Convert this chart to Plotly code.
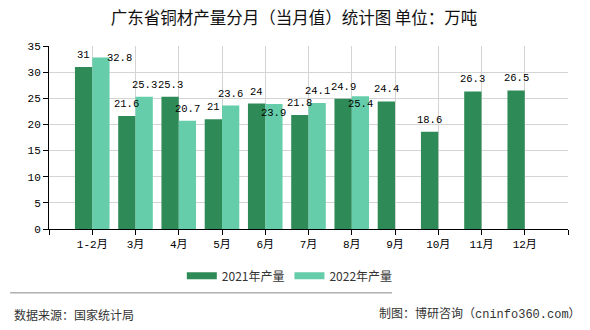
import plotly.graph_objects as go

categories = ["1-2月", "3月", "4月", "5月", "6月", "7月", "8月", "9月", "10月", "11月", "12月"]
prod_2021 = [31, 21.6, 25.3, 21, 24, 21.8, 24.9, 24.4, 18.6, 26.3, 26.5]
prod_2022 = [32.8, 25.3, 20.7, 23.6, 23.9, 24.1, 25.4, None, None, None, None]
series_names = ["2021年产量", "2022年产量"]
y_ticks = [0, 5, 10, 15, 20, 25, 30, 35]

# label placement tweaks (pixels) to mimic original label collision handling
shift_2021 = [(0, 12)] * len(prod_2021)
shift_2022 = [(19, 0), (0, 12), (0, 12), (0, 12), (0, -9), (0, 12), (0, -7.5), None, None, None, None]

c2021 = "#2e8b57"
c2022 = "#66cdaa"
num_font = "Liberation Mono, Noto Sans CJK SC, monospace"
cjk_font = "Noto Sans CJK SC, sans-serif"

xs = list(range(len(categories)))

fig = go.Figure()
fig.add_trace(go.Bar(x=xs, y=prod_2021, name=series_names[0], marker_color=c2021,
                     marker_line_width=0, showlegend=False))
fig.add_trace(go.Bar(x=xs, y=prod_2022, name=series_names[1], marker_color=c2022,
                     marker_line_width=0, showlegend=False))
# legend entries (wide rectangle style)
for nm, col in zip(series_names, [c2021, c2022]):
    fig.add_trace(go.Scatter(x=[None], y=[None], mode="lines", name=nm,
                             line=dict(color=col, width=7)))

annotations = []
for i, v in enumerate(prod_2021):
    if v is None:
        continue
    dx, dy = shift_2021[i]
    annotations.append(dict(x=i - 0.2, y=v, text=str(v), showarrow=False, xref="x", yref="y",
                            xshift=dx, yshift=dy, yanchor="middle",
                            font=dict(family=num_font, size=10.5, color="#000")))
for i, v in enumerate(prod_2022):
    if v is None:
        continue
    dx, dy = shift_2022[i]
    annotations.append(dict(x=i + 0.2, y=v, text=str(v), showarrow=False, xref="x", yref="y",
                            xshift=dx, yshift=dy, yanchor="middle",
                            font=dict(family=num_font, size=10.5, color="#000")))

annotations.append(dict(text="数据来源：国家统计局", xref="paper", yref="paper", x=-0.0713, y=-0.469,
                        xanchor="left", yanchor="middle", showarrow=False,
                        font=dict(family=cjk_font, size=12, color="#333")))
annotations.append(dict(text="制图：博研咨询（cninfo360.com）", xref="paper", yref="paper", x=1.029, y=-0.464,
                        xanchor="right", yanchor="middle", showarrow=False,
                        font=dict(family="Liberation Mono, Noto Sans CJK SC, monospace", size=12, color="#333")))

fig.update_layout(
    width=590, height=330,
    margin=dict(l=49, r=22, t=45.7, b=101),
    paper_bgcolor="white", plot_bgcolor="white",
    barmode="group", bargap=0.2, bargroupgap=0,
    title=dict(text="广东省铜材产量分月（当月值）统计图 单位：万吨", x=294 / 590, xanchor="center",
               y=1 - 18 / 330, yanchor="middle", font=dict(family=cjk_font, size=16.5, color="#111")),
    legend=dict(orientation="h", x=0.464, xanchor="center", y=-0.256, yanchor="middle",
                font=dict(family=cjk_font, size=12, color="#333"), itemwidth=30,
                bgcolor="rgba(0,0,0,0)"),
    annotations=annotations,
    shapes=[dict(type="line", xref="paper", yref="paper", x0=-0.075, x1=0.661, y0=-0.349, y1=-0.349,
                 line=dict(color="#888", width=1))],
)

fig.update_xaxes(range=[-1, len(categories)], tickmode="array",
                 tickvals=[-1] + xs + [len(categories)],
                 ticktext=[""] + categories + [""],
                 showgrid=True, gridcolor="#d4d4d4", gridwidth=1,
                 showline=True, linecolor="#000", linewidth=1,
                 ticks="outside", ticklen=5, tickcolor="#000",
                 tickfont=dict(family=num_font, size=11, color="#000"),
                 zeroline=False, fixedrange=True)
fig.update_yaxes(range=[0, 35], tickmode="array", tickvals=y_ticks,
                 showgrid=True, gridcolor="#d4d4d4", gridwidth=1,
                 showline=True, linecolor="#000", linewidth=1,
                 ticks="outside", ticklen=5, tickcolor="#000",
                 tickfont=dict(family=num_font, size=11, color="#000"),
                 zeroline=False, fixedrange=True)

fig.write_html("out.html")
